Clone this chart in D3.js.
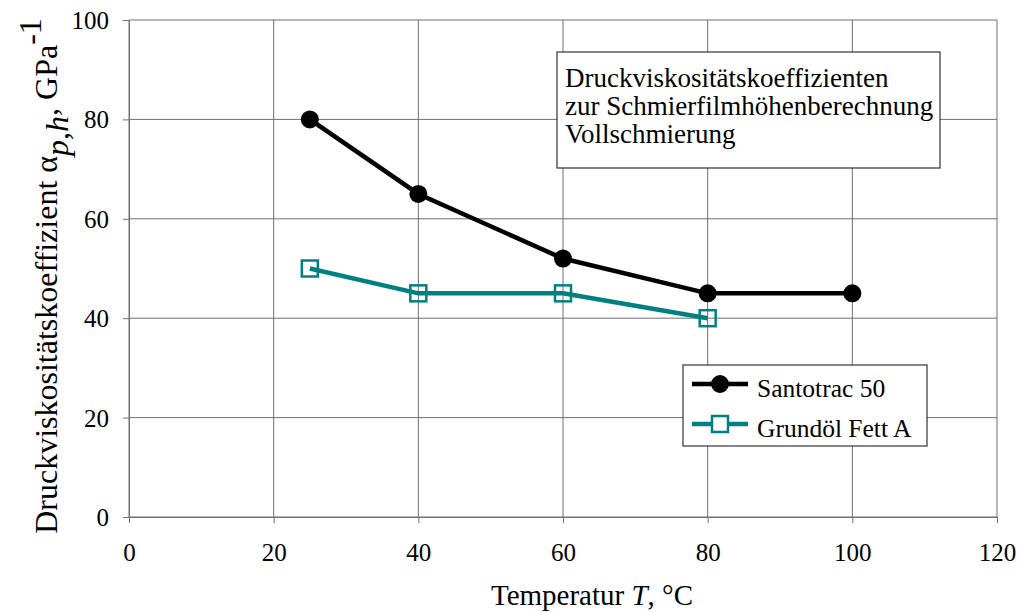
<!DOCTYPE html>
<html>
<head>
<meta charset="utf-8">
<script src="https://cdn.jsdelivr.net/npm/d3@7"></script>
<style>
  html, body { margin: 0; padding: 0; background: #fff; }
  svg { display: block; }
  text { font-family: "Liberation Serif", "Times New Roman", serif; fill: #000; }
</style>
</head>
<body>
<svg id="chart" width="1022" height="612"></svg>
<script>
// Pressure-viscosity coefficients vs. temperature
const santotracT = [25, 40, 60, 80, 100];
const santotracAlpha = [80, 65, 52, 45, 45];
const grundoelT = [25, 40, 60, 80];
const grundoelAlpha = [50, 45, 45, 40];
const xTicks = [0, 20, 40, 60, 80, 100, 120];
const yTicks = [0, 20, 40, 60, 80, 100];
const seriesNames = ["Santotrac 50", "Grundöl Fett A"];
const noteLines = ["Druckviskositätskoeffizienten", "zur Schmierfilmhöhenberechnung", "Vollschmierung"];

const svg = d3.select("#chart");
const m = { left: 129, right: 997, top: 20, bottom: 517 };
const x = d3.scaleLinear().domain([0, 120]).range([m.left, m.right]);
const y = d3.scaleLinear().domain([0, 100]).range([m.bottom, m.top]);

const gridColor = "#707070";

// grid
svg.append("g").selectAll("line").data(xTicks).join("line")
  .attr("x1", d => x(d)).attr("x2", d => x(d))
  .attr("y1", m.top).attr("y2", m.bottom)
  .attr("stroke", gridColor).attr("stroke-width", 1);
svg.append("g").selectAll("line").data(yTicks).join("line")
  .attr("x1", m.left).attr("x2", m.right)
  .attr("y1", d => y(d)).attr("y2", d => y(d))
  .attr("stroke", gridColor).attr("stroke-width", 1);

// axes
const xAxis = d3.axisBottom(x).tickValues(xTicks).tickSize(6).tickPadding(20).tickFormat(d3.format("d"));
const yAxis = d3.axisLeft(y).tickValues(yTicks).tickSize(6).tickPadding(14).tickFormat(d3.format("d"));
const gx = svg.append("g").attr("transform", `translate(0,${m.bottom})`).call(xAxis);
const gy = svg.append("g").attr("transform", `translate(${m.left},0)`).call(yAxis);
[gx, gy].forEach(g => {
  g.select(".domain").attr("stroke", gridColor);
  g.selectAll(".tick line").attr("stroke", gridColor);
  g.selectAll(".tick text").style("font-family", "'Liberation Serif', serif").style("font-size", "25px").attr("fill", "#000");
});
gy.selectAll(".tick text").attr("dy", "0.34em");

// axis titles
const xt = svg.append("text").attr("x", 592).attr("y", 605).attr("text-anchor", "middle").style("font-size", "29px");
xt.append("tspan").text("Temperatur ");
xt.append("tspan").style("font-style", "italic").text("T");
xt.append("tspan").text(", °C");

const yt = svg.append("text").attr("transform", `translate(57,276) rotate(-90)`)
  .attr("text-anchor", "middle").style("font-size", "32px");
yt.append("tspan").text("Druckviskositätskoeffizient α");
yt.append("tspan").attr("dy", 11).style("font-style", "italic").text("p,h");
yt.append("tspan").attr("dy", -11).text(", GPa");
yt.append("tspan").attr("dy", -16).text("-1");

// series lines
const line = d3.line().x(d => x(d[0])).y(d => y(d[1]));
const santo = santotracT.map((t, i) => [t, santotracAlpha[i]]);
const grund = grundoelT.map((t, i) => [t, grundoelAlpha[i]]);
const teal = "#008080";

svg.append("path").datum(santo).attr("d", line).attr("fill", "none").attr("stroke", "#000").attr("stroke-width", 4.5);
svg.append("path").datum(grund).attr("d", line).attr("fill", "none").attr("stroke", teal).attr("stroke-width", 4.5);

svg.append("g").selectAll("circle").data(santo).join("circle")
  .attr("cx", d => x(d[0])).attr("cy", d => y(d[1])).attr("r", 9).attr("fill", "#000");
svg.append("g").selectAll("rect").data(grund).join("rect")
  .attr("x", d => x(d[0]) - 8).attr("y", d => y(d[1]) - 8)
  .attr("width", 16).attr("height", 16)
  .attr("fill", "none").attr("stroke", teal).attr("stroke-width", 2.5);

// note box
const note = svg.append("g");
note.append("rect").attr("x", 557).attr("y", 52).attr("width", 383).attr("height", 116)
  .attr("fill", "#fff").attr("stroke", "#333").attr("stroke-width", 1.2);
note.selectAll("text").data(noteLines).join("text")
  .attr("x", 565).attr("y", (d, i) => 87 + i * 28).style("font-size", "27px").text(d => d);

// legend
const leg = svg.append("g");
leg.append("rect").attr("x", 683).attr("y", 365).attr("width", 244).attr("height", 81)
  .attr("fill", "#fff").attr("stroke", "#333").attr("stroke-width", 1.2);
const legY = [384, 424];
const colors = ["#000", teal];
seriesNames.forEach((name, i) => {
  leg.append("line").attr("x1", 692).attr("x2", 748).attr("y1", legY[i]).attr("y2", legY[i])
    .attr("stroke", colors[i]).attr("stroke-width", 4.5);
  if (i === 0) {
    leg.append("circle").attr("cx", 720).attr("cy", legY[i]).attr("r", 9).attr("fill", "#000");
  } else {
    leg.append("rect").attr("x", 712).attr("y", legY[i] - 8).attr("width", 16).attr("height", 16)
      .attr("fill", "#fff").attr("stroke", teal).attr("stroke-width", 2.5);
  }
  leg.append("text").attr("x", 757).attr("y", legY[i] + 13).style("font-size", "25.5px").text(name);
});
</script>
</body>
</html>
